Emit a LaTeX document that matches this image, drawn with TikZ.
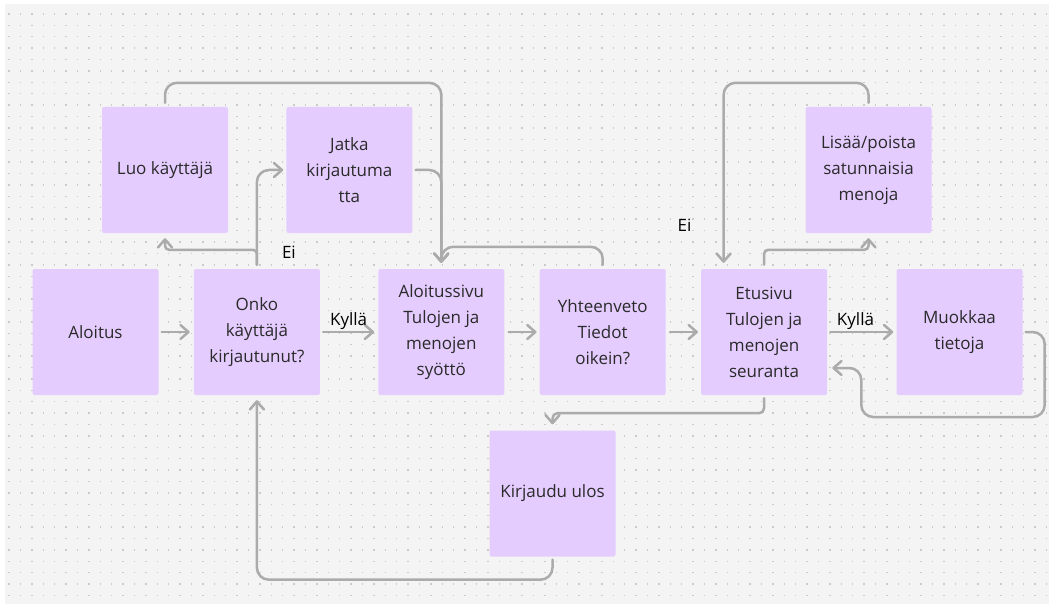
\documentclass[tikz,border=0pt]{standalone}
\usepackage{fontspec}
\setmainfont{Open Sans}
\usepackage{tikz}
\usetikzlibrary{positioning}
\usetikzlibrary{calc}
\usetikzlibrary{arrows.meta}

\definecolor{bgc}{HTML}{F4F4F4}
\definecolor{dotc}{HTML}{CBCBCB}
\definecolor{boxc}{HTML}{E4CCFF}
\definecolor{linec}{HTML}{ABABAB}
\definecolor{txtc}{HTML}{2A2A2A}

\begin{document}
\begin{tikzpicture} [
    x=1pt, y=-1pt,                 % pixel-like units, y grows downwards
    node distance=35pt and 35pt,   % Global setup of box spacing
    ]
% -------------------------------------------------
\tikzset{
  base/.style={rectangle, align=center, text=txtc, font=\fontsize{17}{26}\selectfont},
  rect/.style={base, fill=boxc, rounded corners=2pt, minimum width=126pt, minimum height=126pt, inner sep=0pt},
  lbl/.style={base, text=black, inner sep=1pt},
  line/.style={draw=linec, line width=2.5pt, rounded corners=12pt, line cap=round, -{Straight Barb[length=8pt,width=14pt,round]}},
  dots/.style={draw=dotc, line width=1.4pt, dash pattern=on 1.4pt off 10pt},
}
    \useasboundingbox (0,0) rectangle (1049,604);
    \fill [bgc] (5,4) rectangle (1049,604);
    \foreach \r in {0,...,51}
      \draw [dots] (8.3,14+11.4*\r) -- (1049,14+11.4*\r);

    \node [rect] (alku) at (95.5,332) {Aloitus};
    \node [rect, right=35pt of alku] (onko) {Onko\\käyttäjä\\kirjautunut?};
    \node [rect, right=58pt of onko] (aloit) {Aloitussivu\\Tulojen ja\\menojen\\syöttö};
    \node [rect, right=of aloit] (yht) {Yhteenveto\\Tiedot\\oikein?};
    \node [rect, right=of yht] (etu) {Etusivu\\Tulojen ja\\menojen\\seuranta};
    \node [rect, right=69pt of etu] (muok) {Muokkaa\\tietoja};

    \node [rect] (luo) at (165,170) {Luo käyttäjä};
    \node [rect, right=58pt of luo] (jatka) {Jatka\\kirjautuma\\tta};
    \node [rect] (lisaa) at (868.5,170) {Lisää/poista\\satunnaisia\\menoja};
    \node [rect] (ulos) at (552.5,493.5) {Kirjaudu ulos};

    \path [line] ([xshift=3pt]alku.east) -- ([xshift=-4pt]onko.west);
    \path [line] ([xshift=3pt]onko.east) -- node [lbl, above=0pt] (k1) {Kyllä} ([xshift=-4pt]aloit.west);
    \path [line] ([xshift=4pt]aloit.east) -- ([xshift=-3pt]yht.west);
    \path [line] ([xshift=4pt]yht.east) -- ([xshift=-3pt]etu.west);
    \path [line] ([xshift=3pt]etu.east) -- node [lbl, above=0pt, pos=0.4] (k2) {Kyllä} ([xshift=-3pt]muok.west);

    % muokkaa takaisin etusivulle
    \path [line] ([xshift=3pt]muok.east) -- ++(19,0) -- ++(0,85) -| ([shift={(34,36)}]etu.east) -- ([shift={(5,36)}]etu.east);
    % uloskirjautuminen
    \path [line, rounded corners=5pt] ([yshift=-3pt]etu.south) -- ++(0,15) -| ([yshift=6pt]ulos.north);
    \path [line] ([yshift=-3pt]ulos.south) -- ++(0,20) -| ([yshift=-5pt]onko.south);

    % ei kirjautunut
    \path [line, rounded corners=4pt] ([yshift=4pt]onko.north) -- ++(0,-15) -| ([yshift=-5pt]luo.south);
    \path [line] ([yshift=4pt]onko.north) |- ([xshift=-3pt]jatka.west);
    \node [lbl] (ei1) at ([shift={(32,-17)}]onko.north) {Ei};

    \path [line] ([yshift=4pt]luo.north) -- ++(0,-20) -| ([yshift=6pt]aloit.north);
    \path [line] ([xshift=3pt]jatka.east) -| ([yshift=6pt]aloit.north);
    \path [line] ([yshift=4pt]yht.north) -- ++(0,-18) -| ([yshift=6pt]aloit.north);

    % satunnaiset menot
    \path [line, rounded corners=4pt] ([yshift=4pt]etu.north) -- ++(0,-15) -| ([yshift=-5pt]lisaa.south);
    \path [line] ([yshift=4pt]lisaa.north) -- ++(0,-20) -| ([shift={(-40.5,-6)}]etu.north);
    \node [lbl] (ei2) at ([shift={(-79.5,-44)}]etu.north) {Ei};

\end{tikzpicture}
\end{document}
